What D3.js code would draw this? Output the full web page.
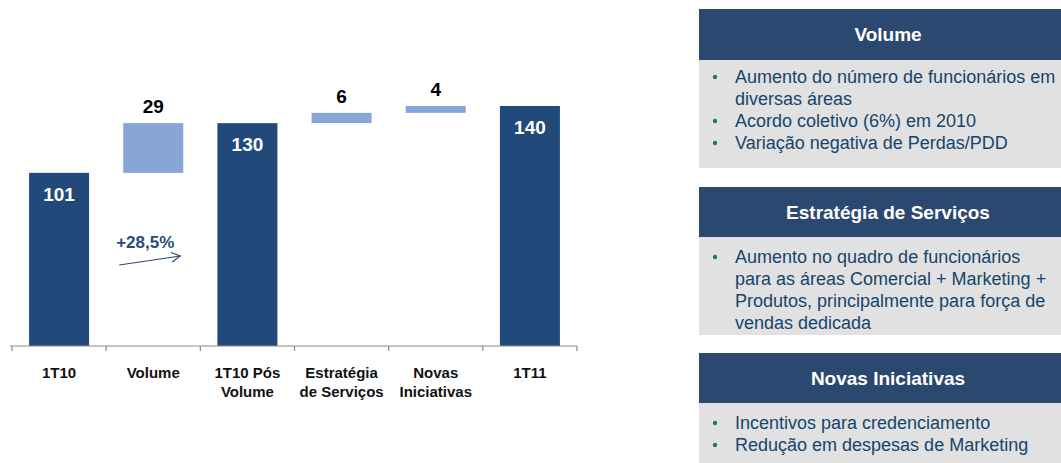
<!DOCTYPE html>
<html>
<head>
<meta charset="utf-8">
<script src="https://cdn.jsdelivr.net/npm/d3@7"></script>
<style>
  html, body { margin: 0; padding: 0; background: #fff; }
  svg { display: block; font-family: "Liberation Sans", Arial, sans-serif; }
</style>
</head>
<body>
<svg id="chart" width="1061" height="463"></svg>
<script>
// Waterfall: 1T10 -> 1T11
const categories = ["1T10", "Volume", "1T10 Pós Volume", "Estratégia de Serviços", "Novas Iniciativas", "1T11"];
const categoryLines = [["1T10"], ["Volume"], ["1T10 Pós", "Volume"], ["Estratégia", "de Serviços"], ["Novas", "Iniciativas"], ["1T11"]];
const values = [101, 29, 130, 6, 4, 140];
const barKinds = ["total", "delta", "total", "delta", "delta", "total"];
const growthLabel = "+28,5%";

// Side panels
const panelTitles = ["Volume", "Estratégia de Serviços", "Novas Iniciativas"];
const panelBullets = [
  [["Aumento do número de funcionários em", "diversas áreas"], ["Acordo coletivo (6%) em 2010"], ["Variação negativa de Perdas/PDD"]],
  [["Aumento no quadro de funcionários", "para as áreas Comercial + Marketing +", "Produtos, principalmente para força de", "vendas dedicada"]],
  [["Incentivos para credenciamento"], ["Redução em despesas de Marketing"]]
];

const colors = { total: "#21497a", delta: "#87a5d6", axis: "#8c8c8c", header: "#2b4870", body: "#e1e1e1", text: "#15456c", bullet: "#1f7a4f" };

const svg = d3.select("#chart");

// ---- waterfall ----
let running = 0;
const bars = categories.map((c, i) => {
  let y0, y1;
  if (barKinds[i] === "total") { y0 = 0; y1 = values[i]; running = values[i]; }
  else { y0 = running; y1 = running + values[i]; running = y1; }
  return { cat: c, lines: categoryLines[i], kind: barKinds[i], value: values[i], y0, y1 };
});

const x = d3.scaleBand().domain(categories).range([12, 577]).padding(0);
const y = d3.scaleLinear().domain([0, 140]).range([346, 106]);
const barW = 60;

const g = svg.append("g");

g.selectAll("rect.bar").data(bars).join("rect")
  .attr("class", "bar")
  .attr("x", d => x(d.cat) + (x.bandwidth() - barW) / 2)
  .attr("width", barW)
  .attr("y", d => y(d.y1))
  .attr("height", d => y(d.y0) - y(d.y1))
  .attr("fill", d => colors[d.kind]);

// axis line with ticks at band boundaries
g.append("line").attr("x1", 10).attr("x2", 577).attr("y1", y(0)).attr("y2", y(0))
  .attr("stroke", colors.axis).attr("stroke-width", 1.2);
const bounds = categories.map(c => x(c)).concat([x.range()[1]]);
g.selectAll("line.tick").data(bounds).join("line")
  .attr("class", "tick")
  .attr("x1", d => d).attr("x2", d => d)
  .attr("y1", y(0)).attr("y2", y(0) + 5)
  .attr("stroke", colors.axis).attr("stroke-width", 1.2);

// value labels
g.selectAll("text.val").data(bars).join("text")
  .attr("class", "val")
  .attr("x", d => x(d.cat) + x.bandwidth() / 2)
  .attr("y", d => d.kind === "total" ? y(d.y1) + 28 : y(d.y1) - 10)
  .attr("text-anchor", "middle")
  .attr("font-size", 19).attr("font-weight", "bold")
  .attr("fill", d => d.kind === "total" ? "#fff" : "#000")
  .text(d => d.value);

// category labels
const cl = g.selectAll("text.cat").data(bars).join("text")
  .attr("class", "cat")
  .attr("text-anchor", "middle")
  .attr("font-size", 15).attr("font-weight", "bold").attr("fill", "#111");
cl.selectAll("tspan").data(d => d.lines.map(l => ({ l, cx: x(d.cat) + x.bandwidth() / 2 }))).join("tspan")
  .attr("x", t => t.cx)
  .attr("y", (t, i) => 378 + i * 19)
  .text(t => t.l);

// growth annotation
const vx = x("Volume") + x.bandwidth() / 2;
g.append("text").attr("x", vx - 8).attr("y", 248)
  .attr("text-anchor", "middle").attr("font-size", 17).attr("font-weight", "bold")
  .attr("fill", "#2a4a78").text(growthLabel);
const ax0 = vx - 34, ay0 = 265, ax1 = vx + 27, ay1 = 256;
g.append("line").attr("x1", ax0).attr("y1", ay0).attr("x2", ax1).attr("y2", ay1)
  .attr("stroke", "#2a4a78").attr("stroke-width", 1.2);
const ang = Math.atan2(ay1 - ay0, ax1 - ax0);
const hl = 10, ha = 0.5;
g.append("path")
  .attr("d", `M${ax1 - hl * Math.cos(ang - ha)},${ay1 - hl * Math.sin(ang - ha)} L${ax1},${ay1} L${ax1 - hl * Math.cos(ang + ha)},${ay1 - hl * Math.sin(ang + ha)}`)
  .attr("fill", "none").attr("stroke", "#2a4a78").attr("stroke-width", 1.2);

// ---- side panels ----
const panelTop = [9, 187, 353];
const headerH = [51, 50, 50];
const bodyH = [108, 98, 62];
const firstLine = [23, 26, 26];
const px = 699, pw = 1061 - 699, lineH = 22;

panelTitles.forEach((title, p) => {
  const pg = svg.append("g");
  const top = panelTop[p];
  pg.append("rect").attr("x", px).attr("y", top).attr("width", pw).attr("height", headerH[p]).attr("fill", colors.header);
  pg.append("rect").attr("x", px).attr("y", top + headerH[p]).attr("width", pw).attr("height", bodyH[p]).attr("fill", colors.body);
  pg.append("text").attr("x", 888).attr("y", top + 32)
    .attr("text-anchor", "middle").attr("font-size", 19).attr("font-weight", "bold").attr("fill", "#fff")
    .text(title);
  let base = top + headerH[p] + firstLine[p];
  panelBullets[p].forEach(item => {
    pg.append("circle").attr("cx", 715).attr("cy", base - 6).attr("r", 2.2).attr("fill", colors.bullet);
    item.forEach(line => {
      pg.append("text").attr("x", 735).attr("y", base)
        .attr("font-size", 18).attr("fill", colors.text).text(line);
      base += lineH;
    });
  });
});
</script>
</body>
</html>
